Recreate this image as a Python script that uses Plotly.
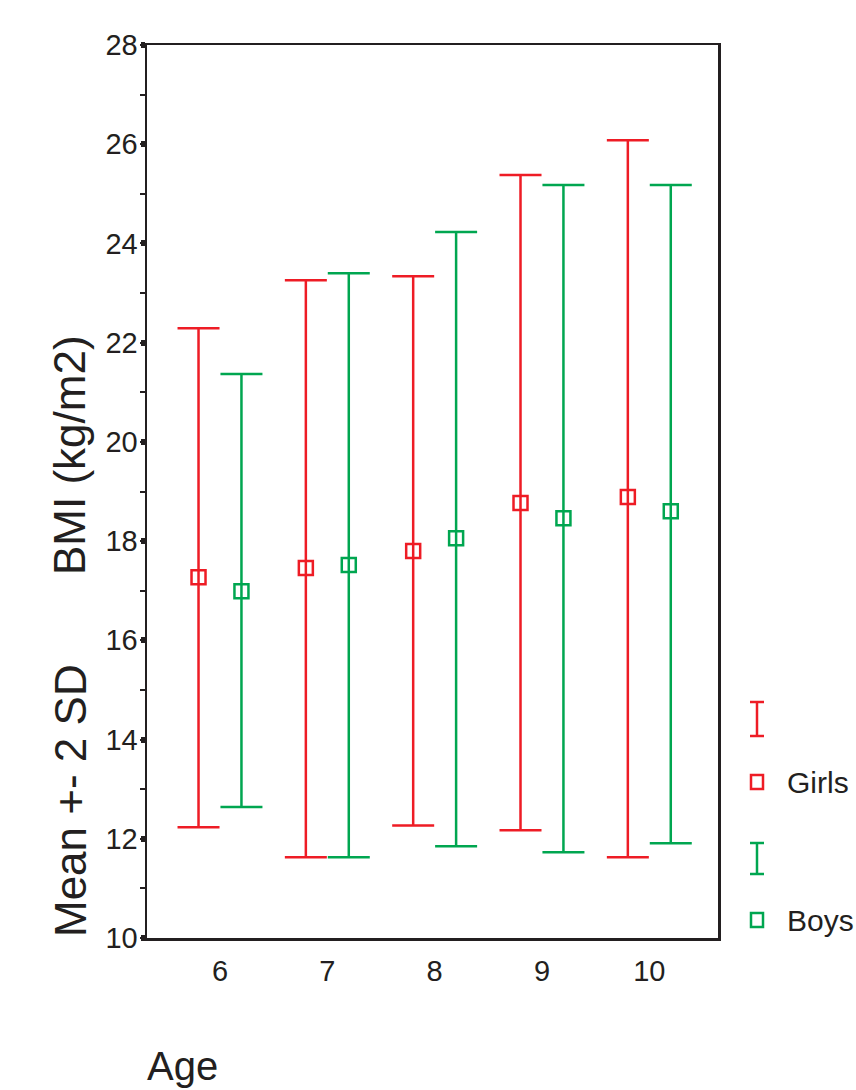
import plotly.graph_objects as go

ages = [6, 7, 8, 9, 10]
girls_mean = [17.27, 17.46, 17.80, 18.77, 18.89]
girls_upper = [22.29, 23.26, 23.34, 25.38, 26.08]
girls_lower = [12.23, 11.63, 12.27, 12.17, 11.63]
boys_mean = [16.99, 17.52, 18.06, 18.46, 18.60]
boys_upper = [21.37, 23.40, 24.23, 25.18, 25.18]
boys_lower = [12.64, 11.63, 11.85, 11.73, 11.91]
y_ticks = [10, 12, 14, 16, 18, 20, 22, 24, 26, 28]

RED = "#EE1C25"
GREEN = "#00A650"
TXT = "#231F20"
FONT = "Liberation Sans, Arial, sans-serif"

offset = 0.2

fig = go.Figure()

def add_series(mean, upper, lower, color, shift, name):
    fig.add_trace(go.Scatter(
        x=[a + shift for a in ages], y=mean, mode="markers", name=name,
        marker=dict(symbol="square-open", size=14, color=color, line=dict(width=2.5, color=color)),
        error_y=dict(type="data", symmetric=False,
                     array=[u - m for u, m in zip(upper, mean)],
                     arrayminus=[m - l for m, l in zip(mean, lower)],
                     color=color, thickness=2.5, width=21),
        showlegend=False, cliponaxis=False, hoverinfo="skip"))

add_series(girls_mean, girls_upper, girls_lower, RED, -offset, "Girls")
add_series(boys_mean, boys_upper, boys_lower, GREEN, offset, "Boys")

L, R, T, B = 147, 718, 45, 938
W, H = 856, 1090

def px(x):
    return (x - L) / (R - L)

def py(y):
    return (B - y) / (B - T)

shapes = []
annotations = []

def legend_bar(cy_top, cy_bot, color):
    cx = 757
    shapes.append(dict(type="line", xref="paper", yref="paper", x0=px(cx), x1=px(cx), y0=py(cy_top), y1=py(cy_bot), line=dict(color=color, width=2.5)))
    for yy in (cy_top, cy_bot):
        shapes.append(dict(type="line", xref="paper", yref="paper", x0=px(cx - 7), x1=px(cx + 7), y0=py(yy), y1=py(yy), line=dict(color=color, width=2.5)))

def legend_square(cy, color, label):
    cx = 757
    shapes.append(dict(type="rect", xref="paper", yref="paper", x0=px(cx - 6), x1=px(cx + 6), y0=py(cy - 7), y1=py(cy + 7), line=dict(color=color, width=2.5)))
    annotations.append(dict(text=label, xref="paper", yref="paper", x=px(785), y=py(cy), xanchor="left", yanchor="middle", showarrow=False, font=dict(size=30, color=TXT, family=FONT)))

legend_bar(702, 736, RED)
legend_square(782, RED, "Girls")
legend_bar(843, 874, GREEN)
legend_square(920, GREEN, "Boys")

annotations.append(dict(text="BMI (kg/m2)", xref="paper", yref="paper", x=px(70), y=py(455), textangle=-90, showarrow=False, xanchor="center", yanchor="middle", font=dict(size=44, color=TXT, family=FONT)))
annotations.append(dict(text="Mean +- 2 SD", xref="paper", yref="paper", x=px(70), y=py(801), textangle=-90, showarrow=False, xanchor="center", yanchor="middle", font=dict(size=44, color=TXT, family=FONT)))
annotations.append(dict(text="Age", xref="paper", yref="paper", x=px(182), y=py(1066), showarrow=False, xanchor="center", yanchor="middle", font=dict(size=40, color=TXT, family=FONT)))

fig.update_layout(
    width=W, height=H,
    margin=dict(l=L, r=W - R, t=T, b=H - B),
    plot_bgcolor="white", paper_bgcolor="white",
    shapes=shapes, annotations=annotations,
    font=dict(family=FONT, color=TXT),
    hovermode=False,
    xaxis=dict(range=[5.32, 10.64], tickvals=ages, ticktext=[str(a) for a in ages],
               ticks="", showgrid=False, zeroline=False, showline=True, linecolor=TXT, linewidth=2.5,
               mirror=True, tickfont=dict(size=29, color=TXT, family=FONT), ticklabelstandoff=6),
    yaxis=dict(range=[10, 28], tickvals=y_ticks, ticks="outside", ticklen=4, tickwidth=6, tickcolor=TXT,
               showgrid=False, zeroline=False, showline=True, linecolor=TXT, linewidth=2.5, mirror=True,
               tickfont=dict(size=29, color=TXT, family=FONT), ticklabelstandoff=-3,
               minor=dict(dtick=1, ticks="outside", ticklen=5, tickwidth=2, tickcolor=TXT, showgrid=False)),
)

fig.write_html("out.html", config={"displayModeBar": False, "staticPlot": True},
               post_script="document.body.style.margin='0';document.body.style.overflow='hidden';")
